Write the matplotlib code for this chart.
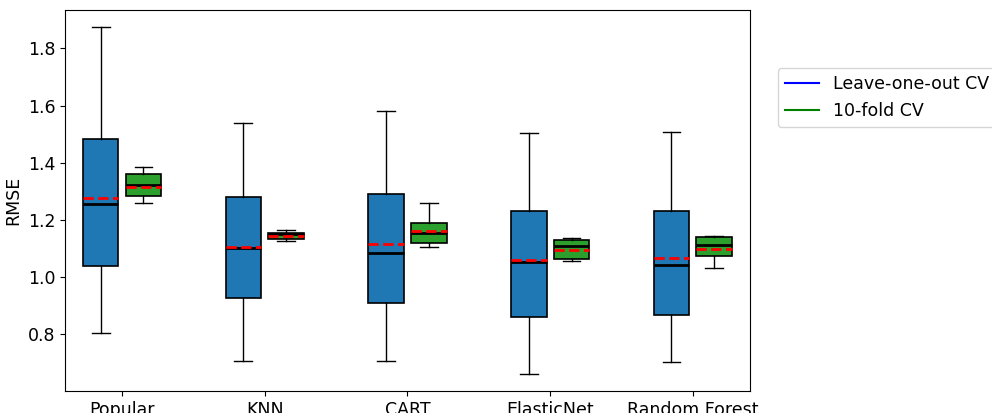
import numpy as np
import matplotlib
matplotlib.use("Agg")
import matplotlib.pyplot as plt

methods = ["Popular", "KNN", "CART", "ElasticNet", "Random Forest"]

# RMSE summary per method: leave-one-out CV
loo_whislo = [0.805, 0.707, 0.707, 0.663, 0.703]
loo_q1 = [1.041, 0.926, 0.911, 0.860, 0.867]
loo_med = [1.257, 1.103, 1.085, 1.055, 1.043]
loo_mean = [1.276, 1.107, 1.116, 1.061, 1.067]
loo_q3 = [1.483, 1.282, 1.291, 1.233, 1.233]
loo_whishi = [1.874, 1.540, 1.580, 1.503, 1.508]

# RMSE summary per method: 10-fold CV
kf_whislo = [1.259, 1.128, 1.106, 1.056, 1.032]
kf_q1 = [1.285, 1.135, 1.121, 1.065, 1.074]
kf_med = [1.321, 1.150, 1.156, 1.110, 1.112]
kf_mean = [1.314, 1.144, 1.163, 1.097, 1.098]
kf_q3 = [1.360, 1.156, 1.189, 1.131, 1.140]
kf_whishi = [1.384, 1.165, 1.258, 1.138, 1.146]


def make_stats(lo, q1, med, mean, q3, hi):
    return [dict(whislo=a, q1=b, med=c, mean=d, q3=e, whishi=f, fliers=[])
            for a, b, c, d, e, f in zip(lo, q1, med, mean, q3, hi)]


loo_stats = make_stats(loo_whislo, loo_q1, loo_med, loo_mean, loo_q3, loo_whishi)
kf_stats = make_stats(kf_whislo, kf_q1, kf_med, kf_mean, kf_q3, kf_whishi)

fs = 12.5
plt.rcParams['font.size'] = fs

fig = plt.figure(figsize=(9.92, 4.13), dpi=100)
ax = fig.add_axes([0.0655, 0.0533, 0.6905, 0.9225])

centers = np.arange(len(methods)) * 2.0
common = dict(widths=0.5, patch_artist=True, showmeans=True, meanline=True,
              medianprops=dict(color="black", linewidth=2),
              meanprops=dict(color="red", linestyle="--", linewidth=2),
              whiskerprops=dict(color="black", linewidth=1),
              capprops=dict(color="black", linewidth=1))

bl = ax.bxp(loo_stats, positions=centers - 0.3,
            boxprops=dict(facecolor="#1f77b4", edgecolor="black", linewidth=1.2),
            **common)
br = ax.bxp(kf_stats, positions=centers + 0.3,
            boxprops=dict(facecolor="#2ca02c", edgecolor="black", linewidth=1.2),
            **common)

ax.plot([], c="blue", label="Leave-one-out CV")
ax.plot([], c="green", label="10-fold CV")
ax.legend(loc="upper left", bbox_to_anchor=(1.028, 0.87), fontsize=fs)

ax.set_xticks(centers)
ax.set_xticklabels(methods, fontsize=fs)
ax.set_ylabel("RMSE", fontsize=fs)
ax.tick_params(labelsize=fs)

plt.savefig("out.png", dpi=100)
